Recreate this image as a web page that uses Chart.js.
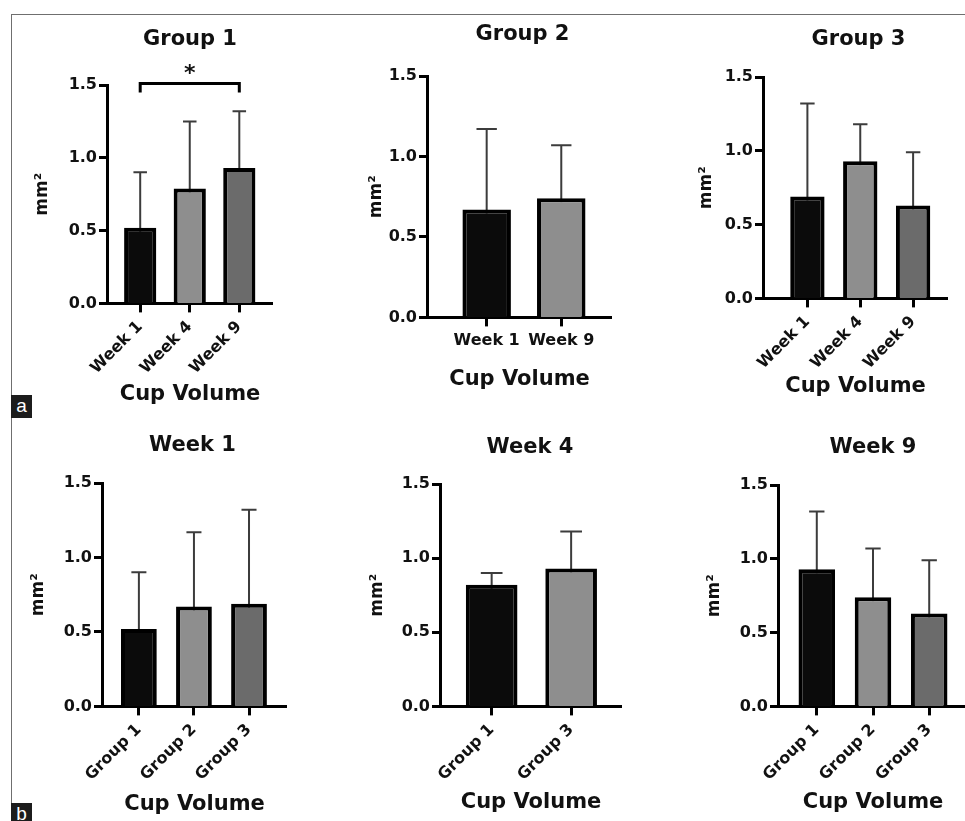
<!DOCTYPE html>
<html>
<head>
<meta charset="utf-8">
<script src="https://cdn.jsdelivr.net/npm/chart.js@4.4.1/dist/chart.umd.min.js"></script>
<style>
html, body { margin:0; padding:0; background:#fff; width:965px; height:821px; overflow:hidden; }
body { position:relative; }
.frame-top { position:absolute; left:11px; top:14px; width:954px; height:1px; background:#6f6f6f; }
.frame-left { position:absolute; left:11px; top:14px; width:1px; height:807px; background:#6f6f6f; }
.tag { position:absolute; left:11px; width:21px; height:23px; background:#1c1c1c; color:#fff;
       font:19px "Liberation Sans", Arial, sans-serif; text-align:center; line-height:21px; }
canvas { position:absolute; }
</style>
</head>
<body>
<div class="frame-top"></div>
<div class="frame-left"></div>
<div class="tag" style="top:395px">a</div>
<div class="tag" style="top:803px">b</div>
<canvas id="c1"></canvas>
<canvas id="c2"></canvas>
<canvas id="c3"></canvas>
<canvas id="c4"></canvas>
<canvas id="c5"></canvas>
<canvas id="c6"></canvas>
<script>
"use strict";

// values (mean and SD, mm^2)
var group1Labels = ['Week 1', 'Week 4', 'Week 9'];
var group1Means = [0.52, 0.79, 0.93];
var group1SD = [0.38, 0.46, 0.39];

var group2Labels = ['Week 1', 'Week 9'];
var group2Means = [0.67, 0.74];
var group2SD = [0.50, 0.33];

var group3Labels = ['Week 1', 'Week 4', 'Week 9'];
var group3Means = [0.69, 0.93, 0.63];
var group3SD = [0.63, 0.25, 0.36];

var week1Labels = ['Group 1', 'Group 2', 'Group 3'];
var week1Means = [0.52, 0.67, 0.69];
var week1SD = [0.38, 0.50, 0.63];

var week4Labels = ['Group 1', 'Group 3'];
var week4Means = [0.82, 0.93];
var week4SD = [0.08, 0.25];

var week9Labels = ['Group 1', 'Group 2', 'Group 3'];
var week9Means = [0.93, 0.74, 0.63];
var week9SD = [0.39, 0.33, 0.36];

// significance bracket in group 1: week 1 vs week 9
var group1Sig = [[0, 2, '*']];

var yMax = 1.5;
var yStep = 0.5;
var yTitle = 'mm\u00b2';
var xTitle = 'Cup Volume';

var barColors = ['#0b0b0b', '#8e8e8e', '#6b6b6b'];
var FONT = '"DejaVu Sans", "Liberation Sans", sans-serif';
var TEXT = '#111';

// where each panel sits on the page
var panels = [
  { id: 'c1', title: 'Group 1', labels: group1Labels, means: group1Means, sd: group1SD, sig: group1Sig,
    ax: 107, ar: 273, top: 85, bottom: 304, xMin: -0.67, xMax: 2.68, rot: 45,
    xTitleDist: 91, yTitleDist: 64, titleGap: 45, titleDx: 0 },
  { id: 'c2', title: 'Group 2', labels: group2Labels, means: group2Means, sd: group2SD,
    ax: 427, ar: 612, top: 76, bottom: 318, xMin: -0.80, xMax: 1.68, rot: 0,
    xTitleDist: 62, yTitleDist: 50, titleGap: 41, titleDx: 3 },
  { id: 'c3', title: 'Group 3', labels: group3Labels, means: group3Means, sd: group3SD,
    ax: 763, ar: 948, top: 77, bottom: 299, xMin: -0.84, xMax: 2.66, rot: 45,
    xTitleDist: 88, yTitleDist: 56, titleGap: 37, titleDx: 3 },
  { id: 'c4', title: 'Week 1', labels: week1Labels, means: week1Means, sd: week1SD,
    ax: 102, ar: 287, top: 483, bottom: 707, xMin: -0.67, xMax: 2.69, rot: 45,
    xTitleDist: 98, yTitleDist: 63, titleGap: 37, titleDx: -2 },
  { id: 'c5', title: 'Week 4', labels: week4Labels, means: week4Means, sd: week4SD,
    ax: 440, ar: 622, top: 484, bottom: 707, xMin: -0.65, xMax: 1.64, rot: 45,
    xTitleDist: 96, yTitleDist: 62, titleGap: 36, titleDx: -1 },
  { id: 'c6', title: 'Week 9', labels: week9Labels, means: week9Means, sd: week9SD,
    ax: 778, ar: 968, top: 485, bottom: 707, xMin: -0.69, xMax: 2.69, rot: 45,
    xTitleDist: 96, yTitleDist: 63, titleGap: 37, titleDx: 0 }
];

var Y_W = 80;      // room left of the y axis
var PAD_TOP = 60;  // room above the plot for the title
var TICK_FONT = 16;
var YT_FONT = 17;
var XT_FONT = 21;

// draws the error bars (mean + SD) behind the bars
var errorBars = {
  id: 'errorBars',
  beforeDatasetsDraw: function (chart) {
    var ctx = chart.ctx;
    var ds = chart.data.datasets[0];
    var yScale = chart.scales.y;
    ctx.save();
    ctx.strokeStyle = '#3c3c3c';
    ctx.lineWidth = 2;
    chart.getDatasetMeta(0).data.forEach(function (bar, i) {
      var p = bar.getProps(['x', 'y', 'width'], true);
      var top = yScale.getPixelForValue(ds.data[i].y + ds.sd[i]);
      var half = p.width * 0.21;
      ctx.beginPath();
      ctx.moveTo(p.x, p.y + 4);
      ctx.lineTo(p.x, top);
      ctx.moveTo(p.x - half, top);
      ctx.lineTo(p.x + half, top);
      ctx.stroke();
    });
    ctx.restore();
  }
};

// panel title and significance bracket
var panelDecor = {
  id: 'panelDecor',
  afterDraw: function (chart, args, opts) {
    var ctx = chart.ctx;
    var area = chart.chartArea;
    ctx.save();
    ctx.fillStyle = TEXT;
    ctx.textAlign = 'center';
    ctx.textBaseline = 'middle';
    ctx.font = 'bold 21px ' + FONT;
    ctx.fillText(opts.title, (area.left + area.right) / 2 + opts.dx, area.top - opts.gap);

    (opts.sig || []).forEach(function (s) {
      var x1 = chart.scales.x.getPixelForValue(s[0]);
      var x2 = chart.scales.x.getPixelForValue(s[1]);
      var y = area.top - 1.5;
      ctx.strokeStyle = '#000';
      ctx.lineWidth = 3;
      ctx.beginPath();
      ctx.moveTo(x1, y + 9);
      ctx.lineTo(x1, y);
      ctx.lineTo(x2, y);
      ctx.lineTo(x2, y + 9);
      ctx.stroke();
      ctx.textBaseline = 'alphabetic';
      ctx.font = 'bold 22px ' + FONT;
      ctx.fillText(s[2], (x1 + x2) / 2, y - 4);
    });
    ctx.restore();
  }
};

function buildPanel(p) {
  var canvas = document.getElementById(p.id);
  var left = p.ax - Y_W;
  var top = p.top - PAD_TOP;
  var xh = p.xTitleDist + XT_FONT * 1.2 / 2;
  canvas.width = p.ar - left;
  canvas.height = p.bottom - top + xh;
  canvas.style.left = left + 'px';
  canvas.style.top = top + 'px';

  var points = p.means.map(function (m, i) { return { x: i, y: m }; });

  new Chart(canvas, {
    type: 'bar',
    data: {
      datasets: [{
        data: points,
        sd: p.sd,
        backgroundColor: barColors.slice(0, p.means.length),
        borderColor: '#000',
        borderWidth: 4,
        barPercentage: 0.65,
        categoryPercentage: 1
      }]
    },
    options: {
      responsive: false,
      animation: false,
      layout: { padding: { top: PAD_TOP, left: 0, right: 0, bottom: 0 } },
      plugins: {
        legend: { display: false },
        tooltip: { enabled: false },
        panelDecor: { title: p.title, dx: p.titleDx, gap: p.titleGap, sig: p.sig }
      },
      scales: {
        x: {
          type: 'linear',
          min: p.xMin,
          max: p.xMax,
          offset: false,
          afterBuildTicks: function (scale) {
            scale.ticks = p.labels.map(function (l, i) { return { value: i }; });
          },
          afterFit: function (scale) { scale.height = xh; },
          ticks: {
            callback: function (v) { return p.labels[v]; },
            minRotation: p.rot,
            maxRotation: p.rot,
            autoSkip: false,
            padding: 5,
            color: TEXT,
            font: { family: FONT, size: TICK_FONT, weight: 'bold' }
          },
          grid: { offset: false, drawOnChartArea: false, drawTicks: true, tickLength: 9, tickWidth: 3, tickColor: '#000' },
          border: { display: true, width: 3, color: '#000' },
          title: {
            display: true,
            text: xTitle,
            color: TEXT,
            padding: { top: 0, bottom: 0 },
            font: { family: FONT, size: XT_FONT, weight: 'bold' }
          }
        },
        y: {
          min: 0,
          max: yMax,
          afterFit: function (scale) { scale.width = Y_W; },
          ticks: {
            stepSize: yStep,
            padding: 2,
            color: TEXT,
            callback: function (v) { return v.toFixed(1); },
            font: { family: FONT, size: TICK_FONT, weight: 'bold' }
          },
          grid: { drawOnChartArea: false, drawTicks: true, tickLength: 8, tickWidth: 3, tickColor: '#000' },
          border: { display: true, width: 3, color: '#000' },
          title: {
            display: true,
            text: yTitle,
            color: TEXT,
            padding: { top: Y_W - p.yTitleDist - YT_FONT * 1.2 / 2, bottom: 0 },
            font: { family: FONT, size: YT_FONT, weight: 'bold' }
          }
        }
      }
    },
    plugins: [errorBars, panelDecor]
  });
}

panels.forEach(buildPanel);
</script>
</body>
</html>
